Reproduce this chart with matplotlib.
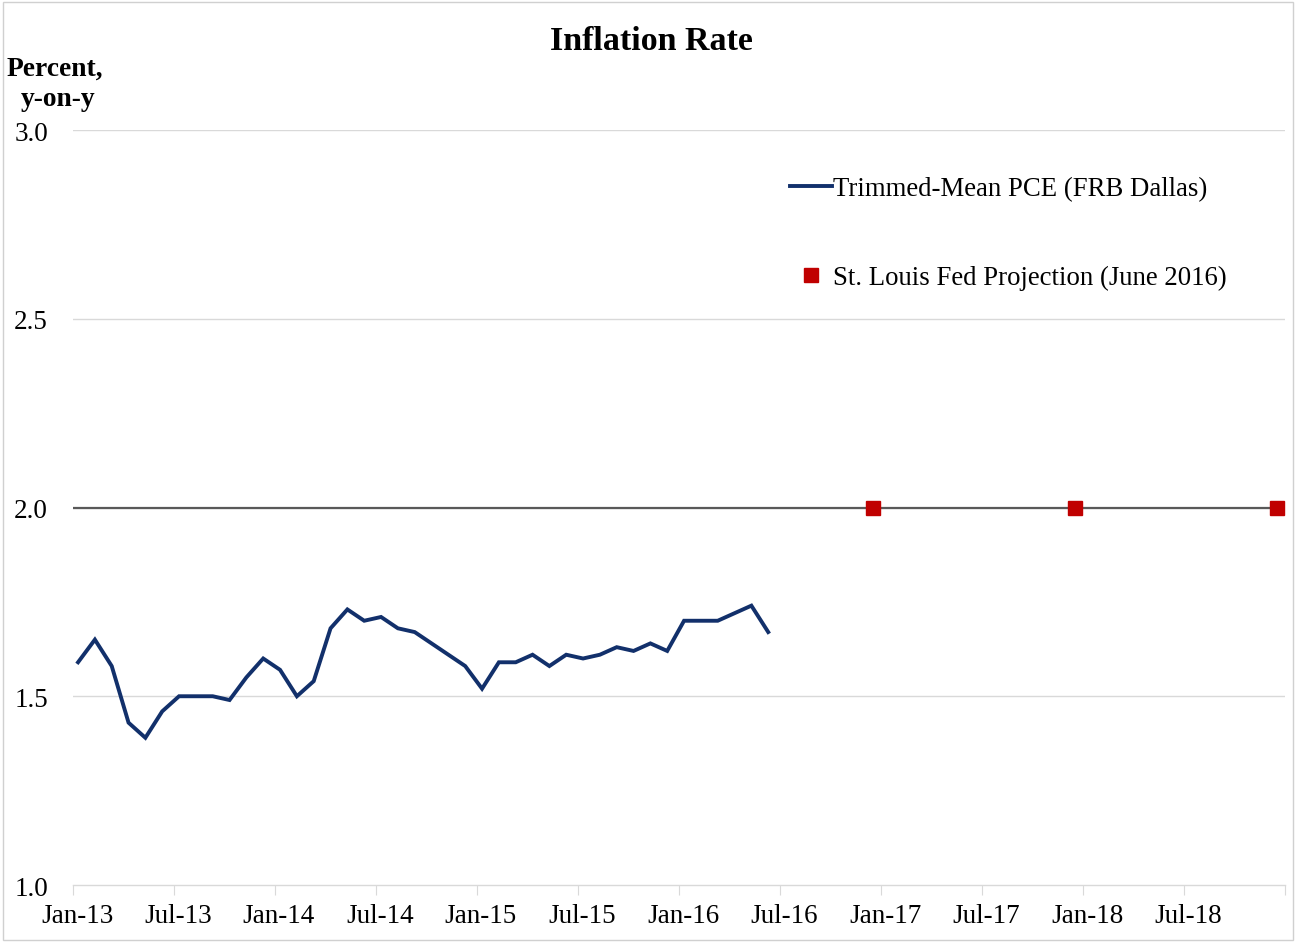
import matplotlib
matplotlib.use("Agg")
import matplotlib.pyplot as plt
import matplotlib.transforms as mtransforms
from matplotlib.lines import Line2D
from matplotlib.patches import Rectangle

# ---- data ----
pce_months = list(range(42))  # Jan-13 .. Jun-16 (month index from Jan-13)
pce_values = [1.59, 1.65, 1.58, 1.43, 1.39, 1.46, 1.50, 1.50, 1.50, 1.49,
              1.55, 1.60, 1.57, 1.50, 1.54, 1.68, 1.73, 1.70, 1.71, 1.68,
              1.67, 1.64, 1.61, 1.58, 1.52, 1.59, 1.59, 1.61, 1.58, 1.61,
              1.60, 1.61, 1.63, 1.62, 1.64, 1.62, 1.70, 1.70, 1.70, 1.72,
              1.74, 1.67]
proj_months = [47.25, 59.25, 71.25]   # mid Dec-16, Dec-17, Dec-18
proj_values = [2.0, 2.0, 2.0]
target_value = 2.0
tick_months = [0, 6, 12, 18, 24, 30, 36, 42, 48, 54, 60, 66]
tick_labels = ["Jan-13", "Jul-13", "Jan-14", "Jul-14", "Jan-15", "Jul-15",
               "Jan-16", "Jul-16", "Jan-17", "Jul-17", "Jan-18", "Jul-18"]
y_ticks = [1.0, 1.5, 2.0, 2.5, 3.0]

plt.rcParams['font.family'] = ['Liberation Serif', 'DejaVu Serif']

W, H = 1297, 945
fig = plt.figure(figsize=(W / 100, H / 100), dpi=100)
ax = fig.add_axes([73 / W, 1 - 886 / H, (1285 - 73) / W, (886 - 131) / H])

navy = "#12306B"
red = "#C00000"

for y in y_ticks[1:]:
    ax.axhline(y, color="#D9D9D9", lw=1.0, zorder=1)
ax.axhline(target_value, color="#595959", lw=1.6, zorder=2)

ax.plot(pce_months, pce_values, color=navy, lw=2.8, zorder=3,
        solid_joinstyle="miter")
ax.plot(proj_months, proj_values, linestyle="none", marker="s", ms=9.8,
        color=red, zorder=4)

ax.set_xlim(-0.3, 71.7)
ax.set_ylim(1.0, 3.0)
ax.set_yticks(y_ticks)
ax.set_yticklabels([f"{v:.1f}" for v in y_ticks], fontsize=19.5)
ax.set_xticks([m - 0.3 for m in tick_months] + [71.7])
ax.set_xticklabels(tick_labels + [""], fontsize=19.5)
ax.tick_params(axis="y", length=0, pad=18)
ax.tick_params(axis="x", length=7, color="#D9D9D9", pad=6)
shift = mtransforms.ScaledTranslation(4 / 100, 0, fig.dpi_scale_trans)
for lbl in ax.get_xticklabels():
    lbl.set_transform(lbl.get_transform() + shift)
for s in ["top", "right", "left"]:
    ax.spines[s].set_visible(False)
ax.spines["bottom"].set_color("#D9D9D9")
ax.spines["bottom"].set_linewidth(1.0)

fig.text(651 / W, 1 - 41 / H, "Inflation Rate", ha="center", va="center",
         fontsize=24.5, fontweight="bold")
fig.text(55 / W, 1 - 69 / H, "Percent,", ha="center", va="center",
         fontsize=19.8, fontweight="bold")
fig.text(58 / W, 1 - 100 / H, "y-on-y", ha="center", va="center",
         fontsize=19.8, fontweight="bold")

handles = [Line2D([], [], color=navy, lw=2.8),
           Line2D([], [], color=red, marker="s", ms=9.8, linestyle="none")]
ax.legend(handles, ["Trimmed-Mean PCE (FRB Dallas)",
                    "St. Louis Fed Projection (June 2016)"],
          loc="upper left", bbox_to_anchor=(777 / W, 1 - 164 / H),
          bbox_transform=fig.transFigure, frameon=False, borderpad=0,
          handlelength=1.55, handletextpad=0.05, labelspacing=2.38,
          fontsize=19.3)

fig.patches.append(Rectangle((3 / W, 4 / H), (W - 7) / W, (H - 7) / H,
                             transform=fig.transFigure, fill=False,
                             edgecolor="#D0D0D0", lw=1.0))

fig.savefig("out.png", dpi=100, facecolor="white")
